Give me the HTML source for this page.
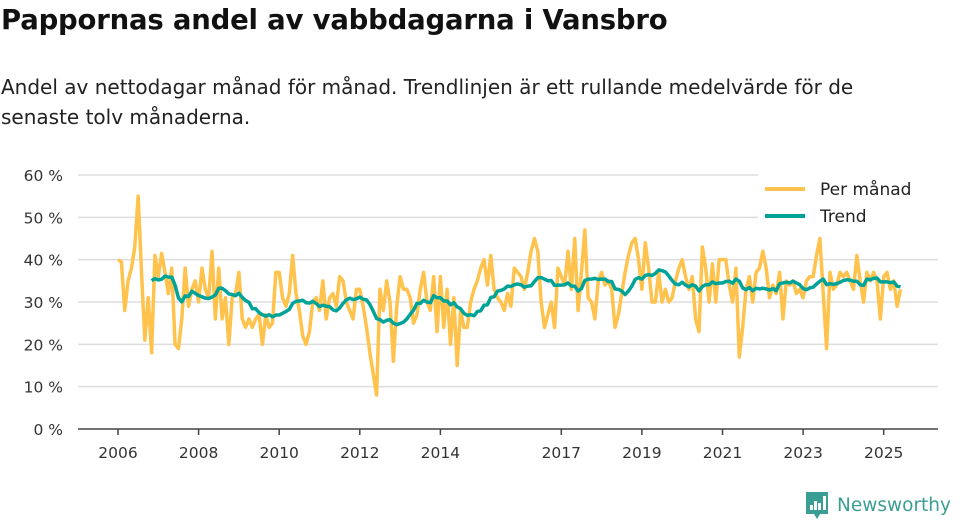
<!DOCTYPE html>
<html><head><meta charset="utf-8">
<style>
body{margin:0;width:960px;height:520px;background:#fff;font-family:"Liberation Sans","DejaVu Sans",sans-serif;overflow:hidden;position:relative;color:#111}
h1{position:absolute;left:1px;top:4px;margin:0;font-family:"DejaVu Sans",sans-serif;font-size:27.5px;font-weight:bold;letter-spacing:-0.2px}
p.sub{position:absolute;left:1px;top:72px;margin:0;font-family:"DejaVu Sans",sans-serif;font-size:20px;line-height:30px;color:#222;width:935px}
svg{position:absolute;left:0;top:0}
</style></head><body>
<h1>Pappornas andel av vabbdagarna i Vansbro</h1>
<p class="sub">Andel av nettodagar månad för månad. Trendlinjen är ett rullande medelvärde för de senaste tolv månaderna.</p>
<svg id="chart" width="960" height="520"></svg>
<script>
const yTicks=[0,10,20,30,40,50,60];
const xTickYears=[2006,2008,2010,2012,2014,2017,2019,2021,2023,2025];
const startYear=2006;
const monthly=[
40,39.5,28,35,38,43,55,37,21,31,18,41,
36,41.5,37,32,38,20,19,26,38,29,33,35,
30,38,33,31,42,26,38,26,31,20,31,32,
37,26,24,26,24,26,27,20,27,24,25,37,
37,31,29,32,41,32,28,22,20,23,30,31,
28,35,26,31,32,29,36,35,30,28,26,33,
33,29,24,18,13,8,33,28,35,30,16,29,
36,33,33,31,25,27,33,37,30,28,36,23,
36,24,33,20,31,15,28,24,24,30,33,35,
38,40,34,41,33,31,30,28,32,29,38,37,
36,33,37,42,45,42,30,24,27,30,24,38,
36,34,42,33,45,28,37,47,31,30,26,35,
37,34,35,33,24,27,32,37,41,44,45,40,
33,44,38,30,30,37,30,33,30,31,35,38,
40,36,33,36,26,23,43,38,30,39,30,40,
40,40,34,30,38,17,24,33,36,30,37,38,
42,38,31,34,32,37,26,35,34,35,32,33,
31,35,36,36,41,45,32,19,37,33,34,37,
36,37,35,33,41,35,30,37,35,37,35,26,
36,37,33,35,29,33];
const trendWindow=12;
const svg=document.getElementById('chart');
const NS='http://www.w3.org/2000/svg';
const x0=118,pxPerYear=40.3,yBase=429,pxPerPct=4.233;
const X=t=>x0+(t-startYear)*pxPerYear;
const Y=v=>yBase-v*pxPerPct;
function el(tag,attrs,parent){const e=document.createElementNS(NS,tag);for(const k in attrs)e.setAttribute(k,attrs[k]);(parent||svg).appendChild(e);return e;}
yTicks.forEach(v=>{
  if(v>0){const g=el('line',{x1:78,x2:938,y1:Y(v),y2:Y(v),stroke:'#dddddd','stroke-width':1.5});
  
  }
  const t=el('text',{x:63,y:Y(v)+6,'text-anchor':'end','font-size':15.5,fill:'#333','font-family':'DejaVu Sans, sans-serif'});t.textContent=v+' %';
  
  
});
const ax=el('line',{x1:78,x2:938,y1:yBase,y2:yBase,stroke:'#444','stroke-width':1.5});


xTickYears.forEach(yr=>{
  const tk=el('line',{x1:X(yr),x2:X(yr),y1:yBase,y2:yBase+6,stroke:'#444','stroke-width':1.5});
  
  
  const t=el('text',{x:X(yr),y:458,'text-anchor':'middle','font-size':15.5,fill:'#333','font-family':'DejaVu Sans, sans-serif'});t.textContent=yr;
  
  
});
const pts=monthly.map((v,i)=>[X(startYear+i/12),Y(v)]);
const mp=el('polyline',{points:pts.map(p=>p.join(',')).join(' '),fill:'none',stroke:'#ffc34d','stroke-width':3.5,'stroke-linejoin':'round'});


const tp=[];
for(let i=trendWindow-2;i<monthly.length;i++){
  const s=monthly.slice(Math.max(0,i-trendWindow+1),i+1);
  const m=s.reduce((a,b)=>a+b,0)/s.length;
  tp.push([X(startYear+i/12),Y(m)]);
}
const tl=el('polyline',{points:tp.map(p=>p.join(',')).join(' '),fill:'none',stroke:'#00a397','stroke-width':3.5,'stroke-linejoin':'round'});


const lg=el('g',{});


el('rect',{x:758,y:170,width:182,height:62,fill:'#fff'},lg);
el('line',{x1:765,x2:805,y1:189,y2:189,stroke:'#ffc34d','stroke-width':4},lg);
const l1=el('text',{x:820,y:195,'font-size':17,fill:'#222','font-family':'DejaVu Sans, sans-serif'},lg);l1.textContent='Per månad';


el('line',{x1:765,x2:805,y1:216,y2:216,stroke:'#00a397','stroke-width':4},lg);
const l2=el('text',{x:820,y:222,'font-size':17,fill:'#222','font-family':'DejaVu Sans, sans-serif'},lg);l2.textContent='Trend';


const logo=el('g',{});


el('path',{d:'M806 492 h22 v22 h-8 l-3 5 l-3 -5 h-8 z',fill:'#3a9e94'},logo);
[[810,505,3,5],[814,501,3,9],[818,503,3,7],[823,496,3,14]].forEach(r=>el('rect',{x:r[0],y:r[1],width:r[2],height:r[3],fill:'#fff'},logo));
const lt=el('text',{x:837,y:511,'font-size':18.5,fill:'#3a9e94','font-family':'DejaVu Sans, sans-serif'},logo);lt.textContent='Newsworthy';
</script>
</body></html>
